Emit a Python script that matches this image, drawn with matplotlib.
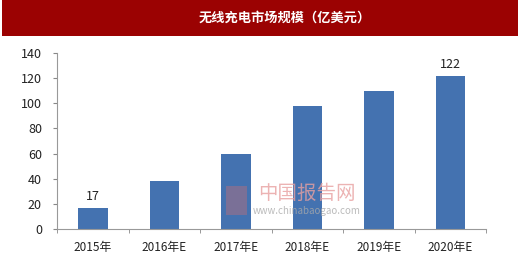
import matplotlib
matplotlib.use("Agg")
import matplotlib.pyplot as plt
from matplotlib.patches import Rectangle
import numpy as np

plt.rcParams['font.family'] = ['Noto Sans CJK SC', 'DejaVu Sans']

# data
categories = ['2015年', '2016年E', '2017年E', '2018年E', '2019年E', '2020年E']
values = [17, 38, 60, 98, 110, 122]
labeled = {0: '17', 5: '122'}
title = '无线充电市场规模（亿美元）'

fig = plt.figure(figsize=(5.2, 2.65), dpi=100)

# red title band
fig.patches.append(Rectangle((0.004, 0.865), 0.992, 0.135, transform=fig.transFigure,
                             facecolor='#9b0202', edgecolor='none'))
fig.text(0.548, 0.935, title, color='white', fontsize=9.5, fontweight='bold',
         ha='center', va='center')

ax = fig.add_axes([0.11, 0.136, 0.825, 0.664])
x = np.arange(len(categories))
ax.bar(x, values, width=0.41, color='#4472b0')
for i, s in labeled.items():
    ax.text(x[i], values[i] + 4, s, ha='center', va='bottom', fontsize=9, color='#222222')

ax.set_xlim(-0.5, len(categories) - 0.5)
ax.set_ylim(0, 140)
ax.set_yticks(range(0, 141, 20))
ax.set_xticks(x)
ax.set_xticklabels(categories, fontsize=8.5, color='#222222')
ax.set_xticks(np.arange(-0.5, len(categories), 1), minor=True)
ax.tick_params(axis='x', which='major', length=0, pad=9)
ax.tick_params(axis='x', which='minor', length=3, color='#888888')
ax.tick_params(axis='y', length=3, color='#888888', labelsize=9, labelcolor='#222222', pad=8)
for side in ['top', 'right']:
    ax.spines[side].set_visible(False)
for side in ['left', 'bottom']:
    ax.spines[side].set_color('#999999')
    ax.spines[side].set_linewidth(0.8)

# watermark
fig.text(0.59, 0.27, '中国报告网', color='#e8a0a0', fontsize=14, ha='center', va='center', alpha=0.8)
fig.text(0.59, 0.205, 'www.chinabaogao.com', color='#aaaaaa', fontsize=7, ha='center', va='center', alpha=0.8)
fig.patches.append(Rectangle((0.435, 0.19), 0.04, 0.11, transform=fig.transFigure,
                             facecolor='#b07080', edgecolor='none', alpha=0.5))

fig.savefig('out.png', dpi=100)
